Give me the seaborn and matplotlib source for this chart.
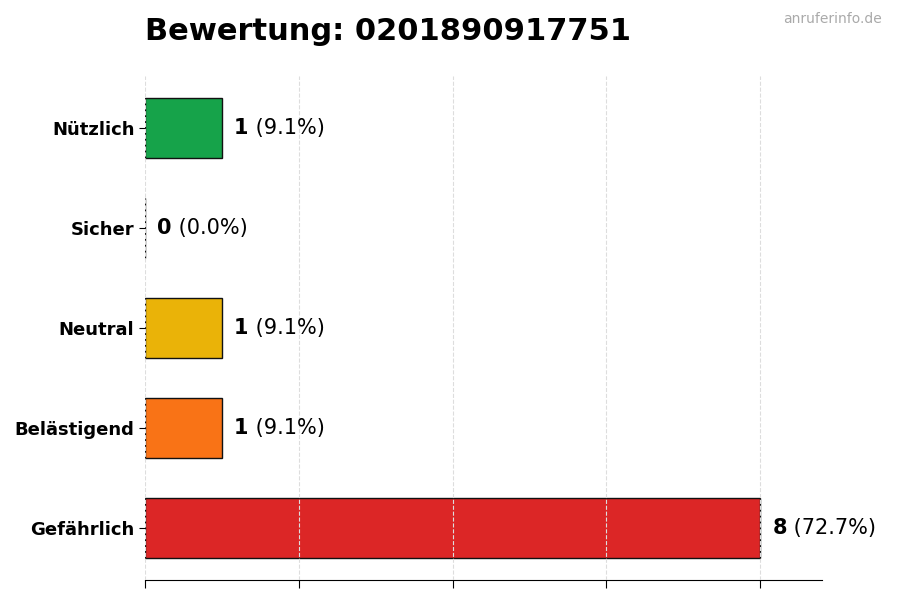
import pandas as pd
import seaborn as sns
import matplotlib.pyplot as plt

# Bewertungen fuer die Nummer
categories = ['Nützlich', 'Sicher', 'Neutral', 'Belästigend', 'Gefährlich']
counts = [1, 0, 1, 1, 8]
colors = ['#16a34a', '#9ca3af', '#eab308', '#f97316', '#dc2626']
number = '0201890917751'

total = sum(counts)
df = pd.DataFrame({'Kategorie': categories, 'Anzahl': counts})

sns.set_style('white')
plt.rcParams['text.color'] = 'black'
plt.rcParams['xtick.color'] = 'black'
plt.rcParams['ytick.color'] = 'black'
plt.rcParams['axes.edgecolor'] = 'black'

fig = plt.figure(figsize=(9, 6), dpi=100)
ax = fig.add_axes([0.161, 0.0333, 0.752, 0.84])

sns.barplot(data=df, x='Anzahl', y='Kategorie', hue='Kategorie',
            palette=colors, saturation=1, orient='h', width=0.6,
            edgecolor='#111111', linewidth=1, legend=False, ax=ax)

ax.set_xlim(0, max(counts) * 1.1)
ax.set_ylim(4.525, -0.525)
ax.set_xticks(range(0, max(counts) + 1, 2))
ax.set_xticklabels([])
ax.set_xlabel('')
ax.set_ylabel('')
ax.grid(axis='x', linestyle='--', color='#dddddd', linewidth=0.8)
ax.set_axisbelow(False)
sns.despine(ax=ax, left=True)
ax.tick_params(axis='y', length=4, left=True, labelsize=13, labelcolor='black')
ax.tick_params(axis='x', length=6, bottom=True)
for lbl in ax.get_yticklabels():
    lbl.set_fontweight('bold')

for i, c in enumerate(counts):
    t = ax.text(c + 0.16, i, str(c), va='center', ha='left',
                fontsize=15, fontweight='bold', color='black')
    ax.annotate(f' ({c / total * 100:.1f}%)', xy=(1, 0.5), xycoords=t,
                va='center', ha='left', fontsize=15, color='black')

fig.text(0.161, 0.923, f'Bewertung: {number}', fontsize=22,
         fontweight='bold', ha='left', va='bottom', color='black')
fig.text(0.98, 0.969, 'anruferinfo.de', fontsize=10, color='#aaaaaa',
         ha='right', va='center')

fig.savefig('out.png', dpi=100)
